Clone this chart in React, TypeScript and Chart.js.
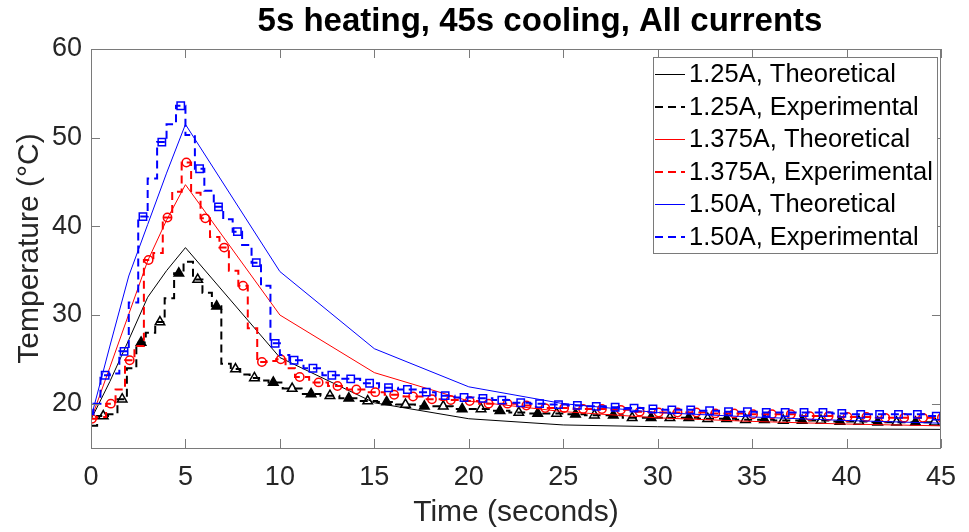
import React, { useEffect, useRef } from "react";
import { Chart, registerables } from "chart.js";

Chart.register(...registerables);

const FONT = '"Liberation Sans", Arial, Helvetica, sans-serif';

const titleText = "5s heating, 45s cooling, All currents";
const xTitle = "Time (seconds)";
const yTitle = "Temperature (°C)";
const xTickValues = [0, 5, 10, 15, 20, 25, 30, 35, 40, 45];
const yTickValues = [20, 30, 40, 50, 60];
const seriesLabels = [
  "1.25A, Theoretical",
  "1.25A, Experimental",
  "1.375A, Theoretical",
  "1.375A, Experimental",
  "1.50A, Theoretical",
  "1.50A, Experimental",
];

// Theoretical curves
const theoTime = [0, 1, 2, 3, 4, 5, 10, 15, 20, 25, 30, 35, 40, 45];
const theo125 = [18.2, 22.5, 27.2, 32.0, 35.0, 37.6, 25.2, 20.1, 18.3, 17.6, 17.4, 17.25, 17.15, 17.1];
const theo1375 = [18.2, 24.1, 30.1, 36.1, 40.7, 44.7, 30.0, 23.5, 20.3, 19.1, 18.4, 18.0, 17.7, 17.5];
const theo150 = [18.4, 26.5, 34.4, 40.2, 46.0, 51.5, 34.9, 26.2, 21.9, 20.0, 19.0, 18.5, 18.1, 17.8];

// Experimental 1.25A
const expTime125 = [
  0, 0.65, 1.15, 1.65, 2.15, 2.65, 3.15, 3.65, 4.15, 4.65, 5.15, 5.65, 6.15, 6.65, 7.15, 7.65, 8.15, 8.65, 9.15, 9.65,
  10.65, 11.65, 12.65, 13.65, 14.65, 15.65, 16.65, 17.65, 18.65, 19.65, 20.65, 21.65, 22.65, 23.65, 24.65, 25.65,
  26.65, 27.65, 28.65, 29.65, 30.65, 31.65, 32.65, 33.65, 34.65, 35.65, 36.65, 37.65, 38.65, 39.65, 40.65, 41.65,
  42.65, 43.65, 44.65,
];
const exp125 = [
  17.5, 18.6, 18.8, 20.5, 24.0, 26.9, 28.0, 29.2, 31.9, 34.7, 36.0, 34.0, 32.5, 31.0, 24.5, 23.9, 23.3, 22.9, 22.6, 22.4,
  21.7, 21.1, 20.9, 20.6, 20.3, 20.2, 19.9, 19.7, 19.7, 19.4, 19.4, 19.2, 19.0, 18.9, 18.9, 18.8,
  18.7, 18.7, 18.4, 18.4, 18.4, 18.4, 18.3, 18.3, 18.2, 18.2, 18.1, 18.1, 18.1, 18.0, 18.0, 17.9,
  17.9, 17.9, 17.9,
];

// Experimental 1.375A
const expTime1375 = [
  0.05, 0.55, 1.05, 1.55, 2.05, 2.55, 3.05, 3.55, 4.05, 4.55, 5.05, 5.55, 6.05, 6.55, 7.05, 7.55, 8.05, 8.55, 9.05, 9.55,
  10.05, 10.55, 11.05, 12.05, 13.05, 14.05, 15.05, 16.05, 17.05, 18.05, 19.05, 20.05, 21.05, 22.05, 23.05, 24.05,
  25.05, 26.05, 27.05, 28.05, 29.05, 30.05, 31.05, 32.05, 33.05, 34.05, 35.05, 36.05, 37.05, 38.05, 39.05, 40.05,
  41.05, 42.05, 43.05, 44.05, 45.05,
];
const exp1375 = [
  18.3, 18.5, 20.0, 21.6, 24.9, 26.5, 36.2, 37.0, 41.0, 43.9, 47.2, 43.8, 40.9, 38.8, 37.6, 35.0, 33.3, 28.5, 24.7, 24.8,
  25.0, 24.0, 23.0, 22.4, 22.0, 21.6, 21.3, 21.0, 20.8, 20.5, 20.4, 20.3, 20.0, 20.0, 19.8, 19.5,
  19.5, 19.4, 19.4, 19.3, 19.1, 19.0, 19.0, 19.0, 18.9, 18.9, 18.8, 18.8, 18.8, 18.6, 18.6, 18.5,
  18.5, 18.4, 18.4, 18.4, 18.4,
];

// Experimental 1.50A
const expTime150 = [
  0, 0.25, 0.75, 1.25, 1.75, 2.25, 2.75, 3.25, 3.75, 4.25, 4.75, 5.25, 5.75, 6.25, 6.75, 7.25, 7.75, 8.25, 8.75, 9.25,
  9.75, 10.25, 10.75, 11.75, 12.75, 13.75, 14.75, 15.75, 16.75, 17.75, 18.75, 19.75, 20.75, 21.75, 22.75, 23.75,
  24.75, 25.75, 26.75, 27.75, 28.75, 29.75, 30.75, 31.75, 32.75, 33.75, 34.75, 35.75, 36.75, 37.75, 38.75, 39.75,
  40.75, 41.75, 42.75, 43.75, 44.75,
];
const exp150 = [
  18.8, 20.0, 23.2, 23.4, 25.9, 31.4, 41.1, 45.4, 49.5, 51.5, 53.6, 50.3, 46.5, 44.0, 42.2, 40.8, 39.4, 37.9, 35.9, 33.3,
  26.8, 25.5, 24.9, 24.0, 23.2, 22.8, 22.3, 21.8, 21.6, 21.3, 20.9, 20.7, 20.6, 20.4, 20.1, 20.0,
  19.9, 19.8, 19.7, 19.6, 19.5, 19.4, 19.3, 19.3, 19.2, 19.1, 19.1, 19.0, 19.0, 19.0, 19.0, 18.9,
  18.8, 18.8, 18.8, 18.8, 18.6,
];

const COLORS = ["#000000", "#000000", "#ff0000", "#ff0000", "#0000ff", "#0000ff"];

const markerIndex = (t: number, off: number) => {
  const k = t - off;
  const r = Math.round(k);
  return Math.abs(k - r) < 1e-6 && r >= 0 ? r : -1;
};

export default function App() {
  const ref = useRef<HTMLCanvasElement>(null);

  useEffect(() => {
    const zip = (t: number[], v: number[]) => t.map((x, i) => ({ x, y: v[i] }));

    const theo = (label: string, color: string, t: number[], v: number[], order: number) => ({
      label,
      data: zip(t, v),
      borderColor: color,
      backgroundColor: color,
      borderWidth: 1,
      pointRadius: 0,
      pointHoverRadius: 0,
      tension: 0,
      order,
    });

    const exp = (
      label: string,
      color: string,
      t: number[],
      v: number[],
      off: number,
      style: string,
      radius: number,
      fill: (k: number) => string,
      order: number
    ) => ({
      label,
      data: zip(t, v),
      borderColor: color,
      borderWidth: 2,
      borderDash: [8, 5],
      stepped: "middle",
      pointStyle: style,
      pointRadius: (c: any) => (markerIndex(t[c.dataIndex], off) >= 0 ? radius : 0),
      pointHoverRadius: 0,
      pointBorderColor: color,
      pointBorderWidth: 1.5,
      pointBackgroundColor: (c: any) => fill(markerIndex(t[c.dataIndex], off)),
      order,
    });

    const blackFill = (k: number) => {
      if (k <= 0) return "rgba(0,0,0,0)";
      const filled = k <= 7 ? k % 2 === 0 : k % 2 === 1;
      return filled ? "#000000" : "rgba(0,0,0,0)";
    };
    const noFill = () => "rgba(0,0,0,0)";

    const decor = {
      id: "matlabDecor",
      afterDatasetsDraw(chart: any) {
        const { ctx, chartArea: a, scales } = chart;
        ctx.save();
        ctx.strokeStyle = "#7a7a7a";
        ctx.lineWidth = 1;
        ctx.setLineDash([]);
        ctx.strokeRect(Math.round(a.left) + 0.5, Math.round(a.top) + 0.5, Math.round(a.right - a.left) - 1, Math.round(a.bottom - a.top));
        const tl = 9;
        ctx.beginPath();
        xTickValues.forEach((v) => {
          const x = Math.round(scales.x.getPixelForValue(v)) + 0.5;
          ctx.moveTo(x, a.bottom);
          ctx.lineTo(x, a.bottom - tl);
          ctx.moveTo(x, a.top);
          ctx.lineTo(x, a.top + tl);
        });
        yTickValues.forEach((v) => {
          const y = Math.round(scales.y.getPixelForValue(v)) + 0.5;
          ctx.moveTo(a.left, y);
          ctx.lineTo(a.left + tl, y);
          ctx.moveTo(a.right, y);
          ctx.lineTo(a.right - tl, y);
        });
        ctx.stroke();
        ctx.restore();
      },
      afterDraw(chart: any) {
        const { ctx, data } = chart;
        ctx.save();
        // title
        ctx.fillStyle = "#000000";
        ctx.font = `bold 33px ${FONT}`;
        ctx.textAlign = "center";
        ctx.textBaseline = "middle";
        ctx.fillText(titleText, 540, 22);

        // legend
        const bx = 653, by = 57, bw = 284, bh = 196;
        ctx.fillStyle = "#ffffff";
        ctx.fillRect(bx, by, bw, bh);
        ctx.strokeStyle = "#7a7a7a";
        ctx.lineWidth = 1;
        ctx.strokeRect(bx + 0.5, by + 0.5, bw, bh);
        const rowH = 32.6;
        ctx.font = `25.5px ${FONT}`;
        ctx.textAlign = "left";
        ctx.textBaseline = "middle";
        data.datasets.forEach((ds: any, i: number) => {
          const cy = Math.round(by + 17 + i * rowH);
          ctx.strokeStyle = COLORS[i];
          const dashed = i % 2 === 1;
          ctx.lineWidth = dashed ? 2 : 1;
          ctx.setLineDash(dashed ? [8, 5] : []);
          ctx.beginPath();
          ctx.moveTo(655, cy + (dashed ? 0 : 0.5));
          ctx.lineTo(685, cy + (dashed ? 0 : 0.5));
          ctx.stroke();
          ctx.setLineDash([]);
          ctx.fillStyle = "#000000";
          ctx.fillText(ds.label, 689, cy + 1);
        });
        ctx.restore();
      },
    };

    const chart = new Chart(ref.current as HTMLCanvasElement, {
      type: "line",
      data: {
        datasets: [
          theo(seriesLabels[0], COLORS[0], theoTime, theo125, 6),
          exp(seriesLabels[1], COLORS[1], expTime125, exp125, 0.65, "triangle", 5.5, blackFill, 5),
          theo(seriesLabels[2], COLORS[2], theoTime, theo1375, 4),
          exp(seriesLabels[3], COLORS[3], expTime1375, exp1375, 0.05, "circle", 4.2, noFill, 3),
          theo(seriesLabels[4], COLORS[4], theoTime, theo150, 2),
          exp(seriesLabels[5], COLORS[5], expTime150, exp150, 0.75, "rect", 5.2, noFill, 1),
        ] as any,
      },
      options: {
        responsive: false,
        animation: false,
        events: [],
        layout: { padding: { top: 49, right: 24, left: 0, bottom: 0 } },
        plugins: {
          legend: { display: false },
          title: { display: false },
          tooltip: { enabled: false },
        },
        scales: {
          x: {
            type: "linear",
            min: 0,
            max: 45,
            afterBuildTicks: (s: any) => {
              s.ticks = xTickValues.map((v) => ({ value: v }));
            },
            afterFit: (s: any) => {
              s.height = 84;
            },
            grid: { display: false, drawTicks: false },
            border: { display: false },
            ticks: {
              autoSkip: false,
              maxRotation: 0,
              padding: 13,
              color: "#262626",
              font: { family: FONT, size: 27 },
            },
            title: {
              display: true,
              text: xTitle,
              color: "#262626",
              font: { family: FONT, size: 30 },
              padding: { top: 0, bottom: 1 },
            },
          },
          y: {
            type: "linear",
            min: 15,
            max: 60,
            afterBuildTicks: (s: any) => {
              s.ticks = yTickValues.map((v) => ({ value: v }));
            },
            afterFit: (s: any) => {
              s.width = 91;
            },
            grid: { display: false, drawTicks: false },
            border: { display: false },
            ticks: {
              padding: 9,
              color: "#262626",
              font: { family: FONT, size: 27 },
            },
            title: {
              display: true,
              text: yTitle,
              color: "#262626",
              font: { family: FONT, size: 30 },
              padding: { top: 12, bottom: 0 },
            },
          },
        },
      },
      plugins: [decor],
    } as any);

    return () => chart.destroy();
  }, []);

  return (
    <div style={{ position: "absolute", left: 0, top: 0, width: 969, height: 532, background: "#ffffff" }}>
      <canvas ref={ref} width={969} height={532} style={{ display: "block" }} />
    </div>
  );
}
